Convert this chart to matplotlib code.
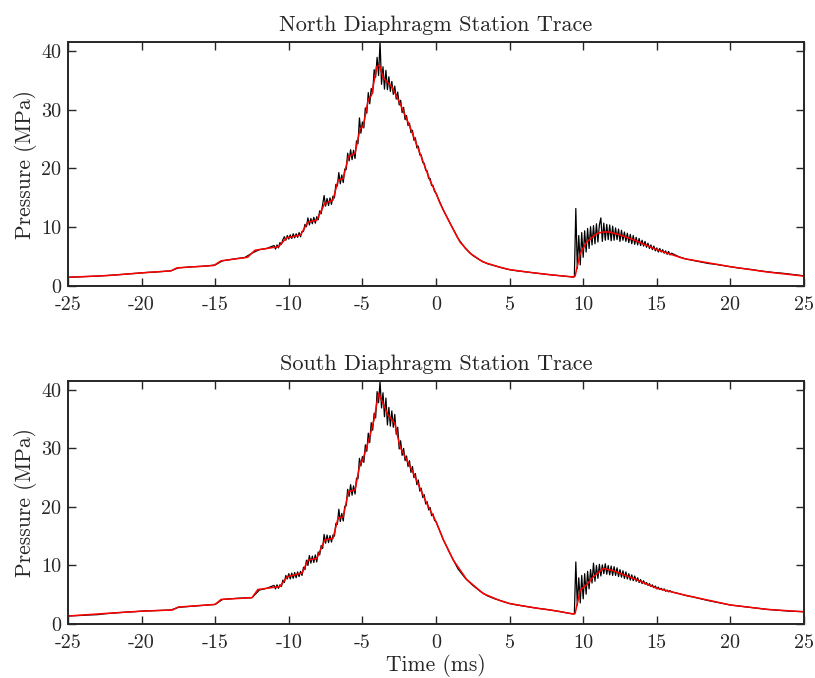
import numpy as np
import matplotlib
matplotlib.use("Agg")
import matplotlib.pyplot as plt

plt.rcParams['font.family'] = 'serif'
plt.rcParams['font.serif'] = ['cmr10', 'DejaVu Serif']
plt.rcParams['axes.unicode_minus'] = False
plt.rcParams['mathtext.fontset'] = 'cm'

# time grid of the recorded trace (ms): coarse where quiet, fine where noisy
t_black = np.concatenate([np.arange(-25, -11.4, 0.5), np.arange(-11.0, 0.05, 0.1),
                          np.arange(0.5, 9.05, 0.5), [9.3], np.arange(9.4, 16.05, 0.1),
                          np.arange(16.5, 25.05, 0.5)])

# ---- North station, raw trace (MPa)
north_pre = [1.5, 1.55, 1.6, 1.65, 1.7, 1.78, 1.85, 1.95, 2.05, 2.15, 2.25, 2.35, 2.4, 2.5,
             2.6, 3.1, 3.2, 3.3, 3.35, 3.45, 3.6, 4.3, 4.5, 4.7, 4.85, 5.6, 6.2, 6.4]
north_rise = [6.9, 6.3, 7.0, 6.5, 7.4, 7.1, 7.9, 8.4, 7.8, 8.6,
              8.0, 8.7, 8.1, 8.9, 8.2, 8.9, 8.3, 9.1, 8.4, 9.3,
              9.3, 10.5, 10.1, 11.6, 10.4, 11.5, 10.6, 11.7, 10.7, 11.8,
              11.3, 12.8, 12.3, 13.9, 15.4, 13.6, 14.9, 13.7, 15.0, 13.9,
              15.3, 15.0, 17.3, 17.0, 19.3, 17.4, 18.9, 17.6, 19.9, 19.8,
              22.6, 21.3, 23.2, 21.5, 23.1, 21.7, 24.7, 24.2, 28.6, 26.0,
              27.9, 26.9, 30.3, 29.4, 32.9, 31.0, 33.6, 32.8, 36.8, 35.5,
              38.9, 35.8, 41.6, 34.3, 37.3, 33.5, 36.7, 33.4, 35.6, 33.1,
              34.8, 32.6, 34.0, 31.8, 33.0, 30.8, 31.6, 29.5, 30.4, 28.3,
              29.0, 27.3, 27.7, 26.1, 26.5, 24.8, 25.2, 23.5, 23.8, 22.3,
              22.3, 21.0, 20.9, 19.7, 19.6, 18.3, 18.3, 17.1, 17.1, 16.1,
              15.8]
north_decay = [12.9, 10.5, 8.1, 6.4, 5.2, 4.4, 3.8, 3.45, 3.1, 2.8, 2.6, 2.45, 2.3, 2.15,
               2.0, 1.87, 1.75, 1.63, 1.55]
north_reflect = [1.6, 13.2, 3.0, 8.6, 3.6, 9.1, 4.9, 9.4, 5.8, 9.8,
                 6.4, 10.1, 7.0, 10.3, 7.2, 10.6, 7.5, 10.4, 11.6, 7.6,
                 10.7, 7.8, 10.5, 7.9, 10.4, 7.7, 10.2, 7.8, 9.9, 7.9,
                 9.7, 7.6, 9.5, 7.8, 9.2, 7.6, 9.0, 7.4, 8.8, 7.2,
                 8.6, 7.1, 8.3, 7.0, 8.1, 6.9, 7.8, 6.8, 7.6, 6.6,
                 7.3, 6.4, 7.0, 6.2, 6.8, 6.0, 6.5, 5.8, 6.4, 5.8,
                 6.2, 5.6, 6.0, 5.4, 5.9, 5.3, 5.6]
north_tail = [5.0, 4.6, 4.35, 4.1, 3.85, 3.7, 3.5, 3.3, 3.1, 2.95, 2.8, 2.6, 2.45, 2.3,
              2.2, 2.05, 1.9, 1.75]

# ---- North station, smoothed fit
north_fit_t = [-25.0, -22.3, -20.0, -18.0, -17.6, -15.1, -14.6, -12.8, -12.3, -10.7, -10.15,
               -9.2, -8.7, -8.1, -7.55, -7.0, -6.65, -6.3, -5.95, -5.5, -5.15, -4.95, -4.6,
               -4.37, -4.03, -3.85, -3.58, -3.0, -2.45, -1.77, -1.09, -0.41, 0.0, 0.27, 0.95,
               1.63, 2.31, 3.2, 4.35, 5.0, 6.6, 8.0, 9.35, 9.45, 9.8, 10.24, 10.9, 11.3, 11.8,
               12.5, 13.4, 15.0, 16.8, 20.0, 22.5, 25.0]
north_fit = [1.5, 1.8, 2.25, 2.6, 3.1, 3.5, 4.3, 4.9, 6.1, 6.7, 8.2, 8.7, 10.9, 11.2, 14.1,
             14.6, 18.0, 18.3, 22.0, 22.6, 26.8, 27.1, 31.7, 32.5, 37.3, 37.6, 35.4, 33.9,
             31.1, 27.1, 22.6, 18.0, 15.8, 14.1, 10.7, 7.5, 5.6, 4.1, 3.2, 2.8, 2.27, 1.87,
             1.55, 1.7, 5.6, 7.5, 8.9, 9.2, 9.2, 8.7, 7.9, 6.2, 4.7, 3.3, 2.4, 1.7]

# ---- South station, raw trace (MPa)
south_pre = [1.37, 1.42, 1.48, 1.55, 1.6, 1.75, 1.85, 1.95, 2.05, 2.1, 2.2, 2.25, 2.3, 2.35,
             2.4, 2.85, 2.95, 3.05, 3.15, 3.25, 3.35, 4.2, 4.3, 4.4, 4.45, 4.5, 5.8, 6.1]
south_rise = [6.6, 6.0, 6.7, 6.1, 6.7, 6.4, 7.5, 7.1, 8.3, 7.7,
              8.6, 7.7, 8.7, 7.8, 8.8, 7.9, 8.9, 8.1, 9.0, 8.3,
              9.7, 9.3, 10.9, 10.0, 11.7, 10.4, 11.6, 10.5, 11.8, 10.6,
              12.3, 11.8, 13.4, 12.9, 15.3, 13.8, 15.2, 13.9, 15.1, 14.0,
              15.2, 15.0, 17.2, 17.0, 19.6, 17.5, 18.9, 17.6, 20.1, 20.2,
              23.0, 21.8, 23.8, 22.0, 23.6, 22.2, 24.9, 24.8, 28.3, 27.0,
              28.6, 27.6, 30.6, 29.5, 32.6, 31.0, 34.4, 33.1, 36.0, 35.2,
              39.7, 37.8, 41.4, 36.9, 39.5, 35.4, 38.6, 34.0, 37.0, 33.8,
              36.4, 33.6, 35.8, 32.4, 33.6, 29.9, 31.3, 28.8, 30.0, 27.9,
              28.7, 26.9, 27.9, 25.9, 26.9, 25.0, 25.7, 23.8, 24.6, 22.7,
              23.2, 21.6, 22.1, 20.5, 20.9, 19.5, 19.9, 18.5, 18.8, 17.7,
              17.5]
south_decay = [14.4, 11.8, 9.4, 7.8, 6.6, 5.6, 4.8, 4.3, 3.9, 3.5, 3.25, 3.05, 2.85, 2.65,
               2.5, 2.3, 2.1, 1.85, 1.75]
south_reflect = [1.75, 10.6, 3.2, 7.9, 3.6, 8.3, 4.3, 8.6, 5.1, 9.0,
                 6.0, 9.3, 7.0, 10.4, 7.3, 10.0, 7.8, 10.2, 8.2, 10.1,
                 8.6, 10.3, 8.5, 10.0, 8.4, 9.9, 8.3, 9.8, 8.3, 9.6,
                 8.1, 9.3, 8.0, 9.1, 7.8, 8.9, 7.7, 8.6, 7.5, 8.4,
                 7.4, 8.2, 7.3, 7.9, 7.1, 7.6, 6.9, 7.4, 6.8, 7.1,
                 6.6, 6.9, 6.4, 6.7, 6.2, 6.5, 6.0, 6.3, 5.9, 6.1,
                 5.8, 6.0, 5.6, 5.8, 5.5, 5.7, 5.5]
south_tail = [5.2, 4.85, 4.6, 4.3, 4.0, 3.75, 3.5, 3.25, 3.1, 2.95, 2.8, 2.65, 2.5, 2.4,
              2.3, 2.2, 2.15, 2.1]

# ---- South station, smoothed fit
south_fit_t = [-25.0, -22.5, -20.0, -17.9, -17.5, -15.0, -14.6, -12.5, -12.1, -10.6, -10.1,
               -9.1, -8.7, -8.1, -7.55, -7.0, -6.65, -6.3, -5.95, -5.5, -5.15, -5.0, -4.5,
               -4.2, -3.9, -3.6, -3.26, -2.8, -2.45, -1.54, -0.63, 0.0, 0.5, 1.18, 2.09, 3.21,
               4.35, 5.0, 6.6, 8.0, 9.35, 9.45, 9.8, 10.24, 10.7, 11.37, 12.05, 13.4, 15.0,
               16.8, 20.0, 22.5, 25.0]
south_fit = [1.37, 1.8, 2.2, 2.4, 2.9, 3.35, 4.2, 4.5, 5.9, 6.4, 8.1, 8.7, 10.9, 11.2, 14.4,
             14.6, 18.1, 18.3, 22.6, 22.9, 27.5, 27.8, 32.0, 35.0, 39.4, 37.7, 35.7, 34.3,
             30.3, 25.8, 20.6, 17.5, 14.4, 10.9, 7.6, 5.2, 4.0, 3.5, 2.8, 2.3, 1.7, 1.8, 5.8,
             6.7, 8.1, 9.5, 9.1, 7.8, 6.1, 5.0, 3.25, 2.5, 2.1]

north_raw = np.concatenate([north_pre, north_rise, north_decay, north_reflect, north_tail])
south_raw = np.concatenate([south_pre, south_rise, south_decay, south_reflect, south_tail])

panels = [("North Diaphragm Station Trace", north_raw, north_fit_t, north_fit),
          ("South Diaphragm Station Trace", south_raw, south_fit_t, south_fit)]
positions = [[0.0834, 0.578, 0.9031, 0.360], [0.0834, 0.0796, 0.9031, 0.3584]]
axis_col = '#262626'

fig = plt.figure(figsize=(8.15, 6.78), dpi=100)
for i, (title, raw, ft, fv) in enumerate(panels):
    ax = fig.add_axes(positions[i])
    ax.plot(t_black, raw, color='black', lw=0.9)
    ax.plot(ft, fv, color='red', lw=1.1)
    ax.set_xlim(-25, 25)
    ax.set_ylim(0, 41.5)
    ax.set_xticks(np.arange(-25, 26, 5))
    ax.set_yticks([0, 10, 20, 30, 40])
    ax.tick_params(direction='in', top=True, right=True, length=6, width=1.0,
                   labelsize=14.5, color=axis_col, labelcolor=axis_col)
    ax.tick_params(axis='x', pad=7)
    ax.tick_params(axis='y', pad=5)
    for s in ax.spines.values():
        s.set_linewidth(1.4)
        s.set_color(axis_col)
    ax.set_title(title, fontsize=16, pad=8, color=axis_col)
    ax.set_ylabel('Pressure (MPa)', fontsize=15.5, labelpad=3, color=axis_col)
    if i == 1:
        ax.set_xlabel('Time (ms)', fontsize=15.5, labelpad=2, color=axis_col)

fig.savefig('out.png', dpi=100)
